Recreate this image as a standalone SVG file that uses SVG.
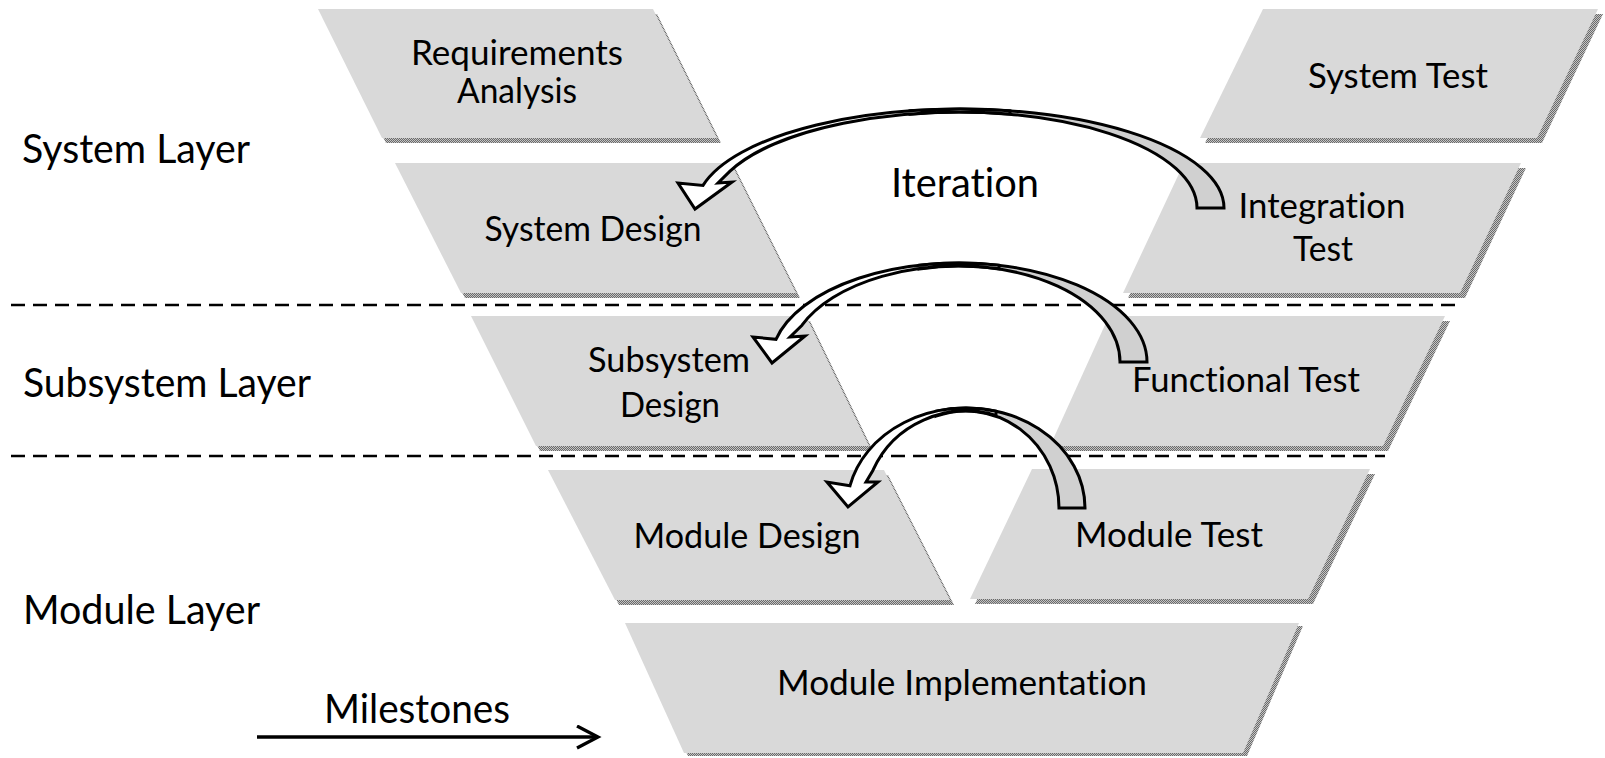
<svg xmlns="http://www.w3.org/2000/svg" width="1605" height="758" viewBox="0 0 1605 758">
<defs>
<pattern id="dots" width="2" height="2" patternUnits="userSpaceOnUse">
<rect width="2" height="2" fill="#c4c4c4"/>
<rect width="1" height="1" fill="#6a6a6a"/>
<rect x="1" y="1" width="1" height="1" fill="#6a6a6a"/>
</pattern>
<marker id="open" markerWidth="26" markerHeight="26" refX="22" refY="12" orient="auto" markerUnits="userSpaceOnUse">
<path d="M1,1 L22,12 L1,23" fill="none" stroke="#000" stroke-width="3.3"/>
</marker>
</defs>
<style>
.face{fill:#d9d9d9}
.shadow{fill:url(#dots)}
text{font-variant-ligatures:none;font-feature-settings:"liga" 0,"clig" 0}
.t{font-family:Lato,"Open Sans",sans-serif;font-size:35px;fill:#000;text-anchor:middle}
.big{font-family:Lato,"Open Sans",sans-serif;font-size:40px;fill:#000}
.dash{stroke:#000;stroke-width:2.6;stroke-dasharray:14 8;fill:none}
.aw{fill:#fff;stroke:#000;stroke-width:3;stroke-linejoin:miter}
.ag{fill:#d0d0d0;stroke:#000;stroke-width:3;stroke-linejoin:miter}
</style>
<rect width="1605" height="758" fill="#fff"/>

<g id="layers">
<text class="big" x="22" y="163" textLength="228" lengthAdjust="spacingAndGlyphs">System Layer</text>
<text class="big" x="23" y="397" textLength="288" lengthAdjust="spacingAndGlyphs">Subsystem Layer</text>
<text class="big" x="23" y="624" textLength="237" lengthAdjust="spacingAndGlyphs">Module Layer</text>
</g>

<g id="separators">
<line class="dash" x1="11" y1="305" x2="1462" y2="305"/>
<line class="dash" x1="11" y1="456" x2="1385" y2="456"/>
</g>

<g id="req">
<polygon class="shadow" transform="translate(4,5)" points="318,9 653,9 717,138 382,138"/>
<polygon class="face" points="318,9 653,9 717,138 382,138"/>
<text class="t" x="517" y="65" textLength="212" lengthAdjust="spacingAndGlyphs">Requirements</text>
<text class="t" x="517" y="103" textLength="120" lengthAdjust="spacingAndGlyphs">Analysis</text>
</g>

<g id="sysdesign">
<polygon class="shadow" transform="translate(4,5)" points="395,163 731,163 796,293 461,293"/>
<polygon class="face" points="395,163 731,163 796,293 461,293"/>
<text class="t" x="593" y="241" textLength="217" lengthAdjust="spacingAndGlyphs">System Design</text>
</g>

<g id="subdesign">
<polygon class="shadow" transform="translate(4,5)" points="471,316 806,316 869,446 536,446"/>
<polygon class="face" points="471,316 806,316 869,446 536,446"/>
<text class="t" x="669" y="372" textLength="162" lengthAdjust="spacingAndGlyphs">Subsystem</text>
<text class="t" x="670" y="417" textLength="100" lengthAdjust="spacingAndGlyphs">Design</text>
</g>

<g id="moddesign">
<polygon class="shadow" transform="translate(4,5)" points="548,470 884,470 950,600 615,600"/>
<polygon class="face" points="548,470 884,470 950,600 615,600"/>
<text class="t" x="747" y="548" textLength="227" lengthAdjust="spacingAndGlyphs">Module Design</text>
</g>

<g id="systest">
<polygon class="shadow" transform="translate(5,5)" points="1263,9 1598,9 1537,138 1200,138"/>
<polygon class="face" points="1263,9 1598,9 1537,138 1200,138"/>
<text class="t" x="1398" y="88" textLength="180" lengthAdjust="spacingAndGlyphs">System Test</text>
</g>

<g id="inttest">
<polygon class="shadow" transform="translate(5,5)" points="1184,163 1521,163 1460,293 1123,293"/>
<polygon class="face" points="1184,163 1521,163 1460,293 1123,293"/>
<text class="t" x="1322" y="218" textLength="167" lengthAdjust="spacingAndGlyphs">Integration</text>
<text class="t" x="1323" y="261" textLength="60" lengthAdjust="spacingAndGlyphs">Test</text>
</g>

<g id="functest">
<polygon class="shadow" transform="translate(5,5)" points="1109,316 1445,316 1383,446 1050,446"/>
<polygon class="face" points="1109,316 1445,316 1383,446 1050,446"/>
<text class="t" x="1246" y="392" textLength="228" lengthAdjust="spacingAndGlyphs">Functional Test</text>
</g>

<g id="modtest">
<polygon class="shadow" transform="translate(5,5)" points="1032,469 1370,469 1308,599 970,599"/>
<polygon class="face" points="1032,469 1370,469 1308,599 970,599"/>
<text class="t" x="1169" y="547" textLength="188" lengthAdjust="spacingAndGlyphs">Module Test</text>
</g>

<g id="modimpl">
<polygon class="shadow" transform="translate(4,3)" points="625,623 1299,623 1243,753 684,753"/>
<polygon class="face" points="625,623 1299,623 1243,753 684,753"/>
<text class="t" x="962" y="695" textLength="370" lengthAdjust="spacingAndGlyphs">Module Implementation</text>
</g>

<g id="iteration-label">
<text class="big" x="965" y="197" text-anchor="middle" textLength="148" lengthAdjust="spacingAndGlyphs">Iteration</text>
</g>

<g id="connectors">
<path class="ag" d="M910,110.8 A264,99 0 0,1 1224,208 L1197,208 A237,96 0 0,0 910,114.2 Z"/>
<path class="aw" d="M1010,110.8 A264,99 0 0,0 703,185.4 L678,183 L695,209 L732,182 L718,183 L730,171.2 A249,96 0 0,1 1010,114 Z"/>
<path class="ag" d="M919,265.3 A188,99 0 0,1 1147,362 L1120,362 A161,96 0 0,0 919,269 Z"/>
<path class="aw" d="M999,265.3 A188,99 0 0,0 776,339.3 L753,337 L772,363 L805,336 L790,337 L802,325.2 A170,96 0 0,1 999,268.7 Z"/>
<path class="ag" d="M936,411.2 A119,100 0 0,1 1085,508 L1059,508 A93,97 0 0,0 936,416.2 Z"/>
<path class="aw" d="M996,411.2 A119,100 0 0,0 850,485.7 L827,482 L848,507 L878,482 L866,482 L873,470.2 A101,97 0 0,1 996,415.4 Z"/>
<line x1="257" y1="737" x2="598" y2="737" stroke="#000" stroke-width="3.3" marker-end="url(#open)"/>
<text class="big" x="417" y="723" text-anchor="middle" textLength="186" lengthAdjust="spacingAndGlyphs">Milestones</text>
</g>
</svg>
